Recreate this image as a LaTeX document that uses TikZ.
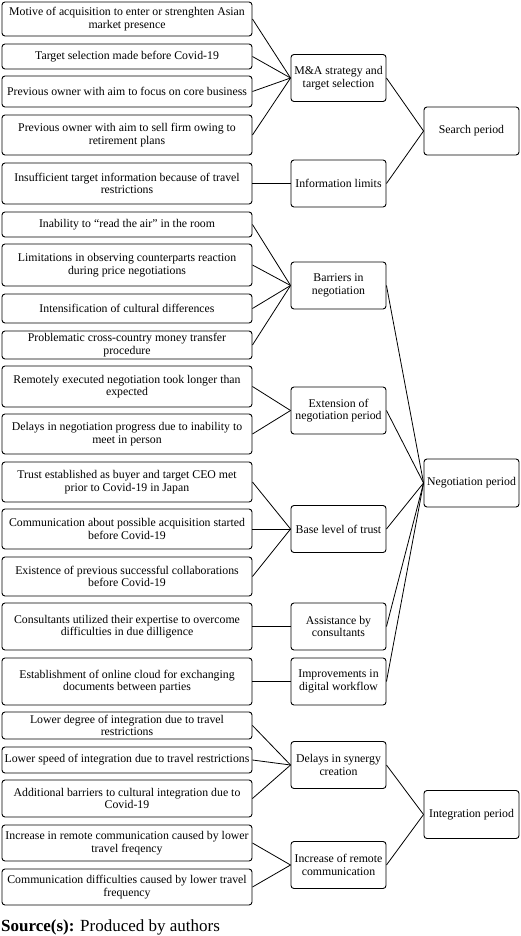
\documentclass[tikz,border=0pt]{standalone}
\usepackage{fontspec}
\setmainfont{Liberation Serif}
\usepackage{tikz}
\usetikzlibrary{positioning}

\tikzset{
  box/.style={draw, line width=0.9pt, rounded corners=3pt, align=center, inner sep=0.5pt,
              font=\fontsize{11.8}{12.4}\selectfont},
  leaf/.style={box, minimum width=250pt},
  theme/.style={box, minimum width=95pt, minimum height=47pt},
  phase/.style={box, minimum width=95pt, minimum height=48pt},
  link/.style={line width=0.8pt}
}

\begin{document}
\begin{tikzpicture}[x=1pt,y=-1pt]
            \useasboundingbox (0,0) rectangle (520,936);

            % left column
            \node[leaf, minimum height=34pt] (l1) at (127,19)    {Motive of acquisition to enter or strenghten Asian\\market presence};
            \node[leaf, minimum height=25pt] (l2) at (127,56.5)  {Target selection made before Covid-19};
            \node[leaf, minimum height=31pt] (l3) at (127,91.5)  {Previous owner with aim to focus on core business};
            \node[leaf, minimum height=40pt] (l4) at (127,135)   {Previous owner with aim to sell firm owing to\\retirement plans};
            \node[leaf, minimum height=41pt] (l5) at (127,183.5) {Insufficient target information because of travel\\restrictions};
            \node[leaf, minimum height=25pt] (l6) at (127,224.5) {Inability to ``read the air'' in the room};
            \node[leaf, minimum height=42pt] (l7) at (127,265)   {Limitations in observing counterparts reaction\\during price negotiations};
            \node[leaf, minimum height=29pt] (l8) at (127,308.5) {Intensification of cultural differences};
            \node[leaf, minimum height=28pt] (l9) at (127,345)   {Problematic cross-country money transfer\\procedure};
            \node[leaf, minimum height=41pt] (l10) at (127,386.5) {Remotely executed negotiation took longer than\\expected};
            \node[leaf, minimum height=40pt] (l11) at (127,434)   {Delays in negotiation progress due to inability to\\meet in person};
            \node[leaf, minimum height=40pt] (l12) at (127,482)   {Trust established as buyer and target CEO met\\prior to Covid-19 in Japan};
            \node[leaf, minimum height=40pt] (l13) at (127,529)   {Communication about possible acquisition started\\before Covid-19};
            \node[leaf, minimum height=39pt] (l14) at (127,576.5) {Existence of previous successful collaborations\\before Covid-19};
            \node[leaf, minimum height=47pt] (l15) at (127,626.5) {Consultants utilized their expertise to overcome\\difficulties in due dilligence};
            \node[leaf, minimum height=47pt] (l16) at (127,681.5) {Establishment of online cloud for exchanging\\documents between parties};
            \node[leaf, minimum height=27pt] (l17) at (127,725.5) {Lower degree of integration due to travel\\restrictions};
            \node[leaf, minimum height=26pt] (l18) at (127,760)   {Lower speed of integration due to travel restrictions};
            \node[leaf, minimum height=37pt] (l19) at (127,798.5) {Additional barriers to cultural integration due to\\Covid-19};
            \node[leaf, minimum height=36pt] (l20) at (127,843)   {Increase in remote communication caused by lower\\travel freqency};
            \node[leaf, minimum height=36pt] (l21) at (127,887)   {Communication difficulties caused by lower travel\\frequency};

            % middle column
            \node[theme] (strat)  at (338.5,78)    {M\&A strategy and\\target selection};
            \node[theme] (info)   at (338.5,183.5) {Information limits};
            \node[theme] (barr)   at (338.5,285.5) {Barriers in\\negotiation};
            \node[theme] (ext)    at (338.5,410.5) {Extension of\\negotiation period};
            \node[theme] (trust)  at (338.5,529)   {Base level of trust};
            \node[theme] (assist) at (338.5,626.5) {Assistance by\\consultants};
            \node[theme] (digi)   at (338.5,681.5) {Improvements in\\digital workflow};
            \node[theme] (syn)    at (338.5,765)   {Delays in synergy\\creation};
            \node[theme] (remote) at (338.5,865)   {Increase of remote\\communication};

            % right column
            \node[phase] (search) at (471.5,131)   {Search period};
            \node[phase] (nego)   at (471.5,483)   {Negotiation period};
            \node[phase] (integ)  at (471.5,814.5) {Integration period};

            \node[anchor=base west, inner sep=0pt, font=\fontsize{17}{19}\selectfont] (src) at (1,931) {\textbf{Source(s):} Produced by authors};

            % left to middle
            \foreach \i in {1,...,4} \draw[link] (l\i.east) -- (strat.west);
            \draw[link] (l5.east) -- (info.west);
            \foreach \i in {6,...,9} \draw[link] (l\i.east) -- (barr.west);
            \foreach \i in {10,11} \draw[link] (l\i.east) -- (ext.west);
            \foreach \i in {12,13,14} \draw[link] (l\i.east) -- (trust.west);
            \draw[link] (l15.east) -- (assist.west);
            \draw[link] (l16.east) -- (digi.west);
            \foreach \i in {17,18,19} \draw[link] (l\i.east) -- (syn.west);
            \foreach \i in {20,21} \draw[link] (l\i.east) -- (remote.west);

            % middle to right
            \foreach \m in {strat,info} \draw[link] (\m.east) -- (search.west);
            \foreach \m in {barr,ext,trust,assist,digi} \draw[link] (\m.east) -- (nego.west);
            \foreach \m in {syn,remote} \draw[link] (\m.east) -- (integ.west);
\end{tikzpicture}
\end{document}
